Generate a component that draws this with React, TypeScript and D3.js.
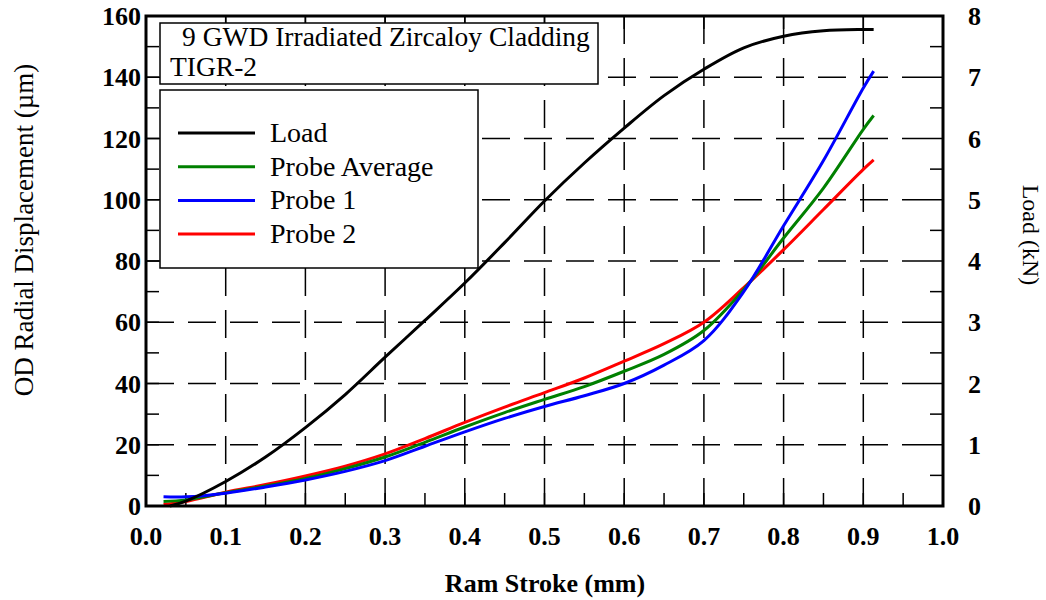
import React, { useEffect, useRef } from 'react';
import * as d3 from 'd3';

// ram stroke (mm) for the probe curves
const probeStroke = [0.022, 0.05, 0.1, 0.15, 0.2, 0.25, 0.3, 0.35, 0.4, 0.45, 0.5, 0.55, 0.6, 0.65, 0.7, 0.75, 0.8, 0.85, 0.9, 0.913];
// OD radial displacement (um)
const probeAverage = [1.5, 2, 4.3, 6.5, 9, 12.2, 16, 20.8, 25.8, 30.5, 34.8, 39, 44, 49.5, 57.3, 70.7, 87.5, 103.8, 123, 127.5];
const probe1 = [3, 3, 4.2, 6.2, 8.5, 11.3, 14.8, 19.5, 24.2, 28.6, 32.5, 36, 40, 46, 54, 70, 91.5, 112.8, 136.5, 142];
const probe2 = [0.5, 1.5, 4.5, 7, 9.8, 13, 17, 22, 27.3, 32.3, 37, 41.8, 47.3, 53, 60, 71.3, 83.7, 96.8, 109.9, 113];

// load curve (kN)
const loadStroke = [0.03, 0.05, 0.1, 0.15, 0.2, 0.25, 0.3, 0.35, 0.4, 0.45, 0.5, 0.55, 0.6, 0.65, 0.7, 0.75, 0.8, 0.85, 0.9, 0.913];
const loadKN = [0, 0.08, 0.4, 0.8, 1.28, 1.82, 2.43, 3.03, 3.64, 4.3, 4.98, 5.6, 6.17, 6.7, 7.13, 7.48, 7.67, 7.76, 7.78, 7.78];

const xTicks = [0, 0.1, 0.2, 0.3, 0.4, 0.5, 0.6, 0.7, 0.8, 0.9, 1.0];
const yTicks = [0, 20, 40, 60, 80, 100, 120, 140, 160];
const y2Ticks = [0, 1, 2, 3, 4, 5, 6, 7, 8];

const titleLines = ['9 GWD Irradiated Zircaloy Cladding', 'TIGR-2'];
const legendNames = ['Load', 'Probe Average', 'Probe 1', 'Probe 2'];
const legendColors = ['#000000', '#008000', '#0000ff', '#ff0000'];

const FONT = '"Liberation Serif", "Times New Roman", serif';

export default function App() {
  const ref = useRef<SVGSVGElement>(null);

  useEffect(() => {
    const svg = d3.select(ref.current);
    svg.selectAll('*').remove();

    const left = 146, right = 943, top = 16, bottom = 506;

    const x = d3.scaleLinear().domain([0, 1]).range([left, right]);
    const y = d3.scaleLinear().domain([0, 160]).range([bottom, top]);
    const y2 = d3.scaleLinear().domain([0, 8]).range([bottom, top]);

    svg.append('rect').attr('width', 1046).attr('height', 600).attr('fill', '#fff');

    // dashed grid
    const grid = svg.append('g').attr('stroke', '#000').attr('stroke-width', 1.5).attr('stroke-dasharray', '28,14');
    xTicks.slice(1, -1).forEach(t => {
      grid.append('line').attr('x1', x(t)).attr('x2', x(t)).attr('y1', bottom).attr('y2', top);
    });
    yTicks.slice(1, -1).forEach(t => {
      grid.append('line').attr('x1', left).attr('x2', right).attr('y1', y(t)).attr('y2', y(t));
    });

    // inward ticks
    const ticks = svg.append('g').attr('stroke', '#000').attr('stroke-width', 1.5);
    d3.range(10, 160, 10).forEach(v => {
      ticks.append('line').attr('x1', left).attr('x2', left + 13).attr('y1', y(v)).attr('y2', y(v));
      ticks.append('line').attr('x1', right - 13).attr('x2', right).attr('y1', y(v)).attr('y2', y(v));
    });
    d3.range(0.05, 1, 0.05).forEach(v => {
      ticks.append('line').attr('x1', x(v)).attr('x2', x(v)).attr('y1', bottom).attr('y2', bottom - 13);
    });
    xTicks.slice(1, -1).forEach(v => {
      ticks.append('line').attr('x1', x(v)).attr('x2', x(v)).attr('y1', top).attr('y2', top + 13);
    });

    // curves
    const probeLine = (vals: number[]) => d3.line<number>()
      .x((_, i) => x(probeStroke[i]))
      .y(d => y(d))
      .curve(d3.curveCatmullRom.alpha(0.5))(vals);

    const series = [probe2, probeAverage, probe1];
    const seriesColors = ['#ff0000', '#008000', '#0000ff'];
    series.forEach((s, i) => {
      svg.append('path').attr('d', probeLine(s)).attr('fill', 'none')
        .attr('stroke', seriesColors[i]).attr('stroke-width', 3);
    });

    const loadLine = d3.line<number>()
      .x((_, i) => x(loadStroke[i]))
      .y(d => y2(d))
      .curve(d3.curveCatmullRom.alpha(0.5));
    svg.append('path').attr('d', loadLine(loadKN)).attr('fill', 'none')
      .attr('stroke', '#000').attr('stroke-width', 3);

    // frame
    svg.append('rect').attr('x', left).attr('y', top).attr('width', right - left).attr('height', bottom - top)
      .attr('fill', 'none').attr('stroke', '#000').attr('stroke-width', 3);

    // tick labels
    const lab = svg.append('g').attr('font-family', FONT).attr('font-weight', 'bold').attr('font-size', 26).attr('fill', '#000');
    xTicks.forEach(t => {
      lab.append('text').attr('x', x(t)).attr('y', 545).attr('text-anchor', 'middle').text(d3.format('.1f')(t));
    });
    yTicks.forEach(t => {
      lab.append('text').attr('x', 141).attr('y', y(t) + 9).attr('text-anchor', 'end').text(t);
    });
    y2Ticks.forEach(t => {
      lab.append('text').attr('x', 968).attr('y', y2(t) + 9).attr('text-anchor', 'start').text(t);
    });

    // axis titles
    svg.append('text').attr('x', 545).attr('y', 592).attr('text-anchor', 'middle')
      .attr('font-family', FONT).attr('font-weight', 'bold').attr('font-size', 26).text('Ram Stroke (mm)');
    svg.append('text').attr('transform', 'translate(33,230) rotate(-90)').attr('text-anchor', 'middle')
      .attr('font-family', FONT).attr('font-size', 27).text('OD Radial Displacement (\u00b5m)');
    svg.append('text').attr('transform', 'translate(1023,235) rotate(90)').attr('text-anchor', 'middle')
      .attr('font-family', FONT).attr('font-size', 24).text('Load (kN)');

    // title box
    svg.append('rect').attr('x', 160).attr('y', 23).attr('width', 438).attr('height', 61)
      .attr('fill', '#fff').attr('stroke', '#000').attr('stroke-width', 1.5);
    svg.append('text').attr('x', 182).attr('y', 46).attr('font-family', FONT).attr('font-size', 27.5).text(titleLines[0]);
    svg.append('text').attr('x', 170).attr('y', 76).attr('font-family', FONT).attr('font-size', 27.5).text(titleLines[1]);

    // legend
    svg.append('rect').attr('x', 160).attr('y', 90).attr('width', 318).attr('height', 178)
      .attr('fill', '#fff').attr('stroke', '#000').attr('stroke-width', 1.5);
    legendNames.forEach((name, i) => {
      const ly = 133 + i * 33.7;
      svg.append('line').attr('x1', 178).attr('x2', 255).attr('y1', ly).attr('y2', ly)
        .attr('stroke', legendColors[i]).attr('stroke-width', 3);
      svg.append('text').attr('x', 270).attr('y', ly + 9).attr('font-family', FONT).attr('font-size', 28).text(name);
    });
  }, []);

  return (
    <svg ref={ref} width={1046} height={600} style={{ position: 'absolute', left: 0, top: 0 }} />
  );
}
